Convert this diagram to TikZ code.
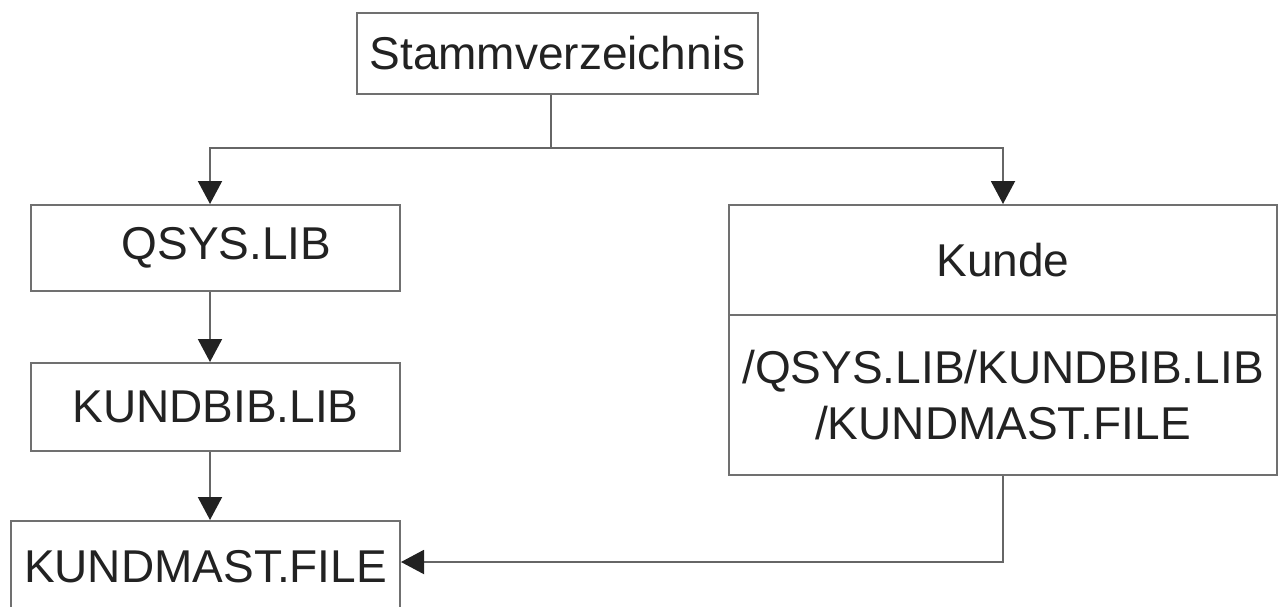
\documentclass[tikz,border=0pt]{standalone}
\usepackage{fontspec}
\setmainfont{Liberation Sans}
\usetikzlibrary{arrows.meta}
\definecolor{boxgray}{HTML}{707070}
\definecolor{linegray}{HTML}{666666}
\definecolor{tipdark}{HTML}{222222}
\definecolor{textdark}{HTML}{222222}
\begin{document}
\begin{tikzpicture}[x=1pt,y=-1pt,
  box/.style={draw=boxgray, line width=2pt, fill=white, inner sep=0pt,
    font=\fontsize{46}{56}\selectfont, text=textdark, align=center},
  conn/.style={draw=linegray, line width=2pt,
    -{Triangle[length=23pt,width=24pt,fill=tipdark,color=tipdark]}},
  plainline/.style={draw=linegray, line width=2pt}]
\useasboundingbox (0,0) rectangle (1278,606);
\clip (0,0) rectangle (1278,606);
\node[box, minimum width=401pt, minimum height=81pt] (root) at (557.5,53.5) {Stammverzeichnis};
\node[box, minimum width=369pt, minimum height=86pt] (qsys) at (215.5,248) {\hspace*{22pt}QSYS.LIB};
\node[box, minimum width=369pt, minimum height=88pt] (kbib) at (215.5,407) {KUNDBIB.LIB};
\node[box, minimum width=389pt, minimum height=92pt] (kmast) at (205.5,567) {KUNDMAST.FILE};
\node[box, minimum width=548pt, minimum height=110pt] (kunde) at (1003,260) {Kunde};
\node[box, minimum width=548pt, minimum height=160pt] (path) at (1003,395)
  {/QSYS.LIB/KUNDBIB.LIB\\/KUNDMAST.FILE};
\coordinate (j) at (551,148);
\coordinate (lane) at (210,148);
\coordinate (rlane) at (1003,148);
\coordinate (turn) at (1003,562);
\draw[plainline] (root.south -| j) -- (j);
\draw[conn] (j) -- (lane) -- (lane |- qsys.north);
\draw[conn] (j) -- (rlane) -- (kunde.north);
\draw[conn] (lane |- qsys.south) -- (lane |- kbib.north);
\draw[conn] (lane |- kbib.south) -- (lane |- kmast.north);
\draw[conn] (path.south) -- (turn) -- (turn -| kmast.east);
\end{tikzpicture}
\end{document}
